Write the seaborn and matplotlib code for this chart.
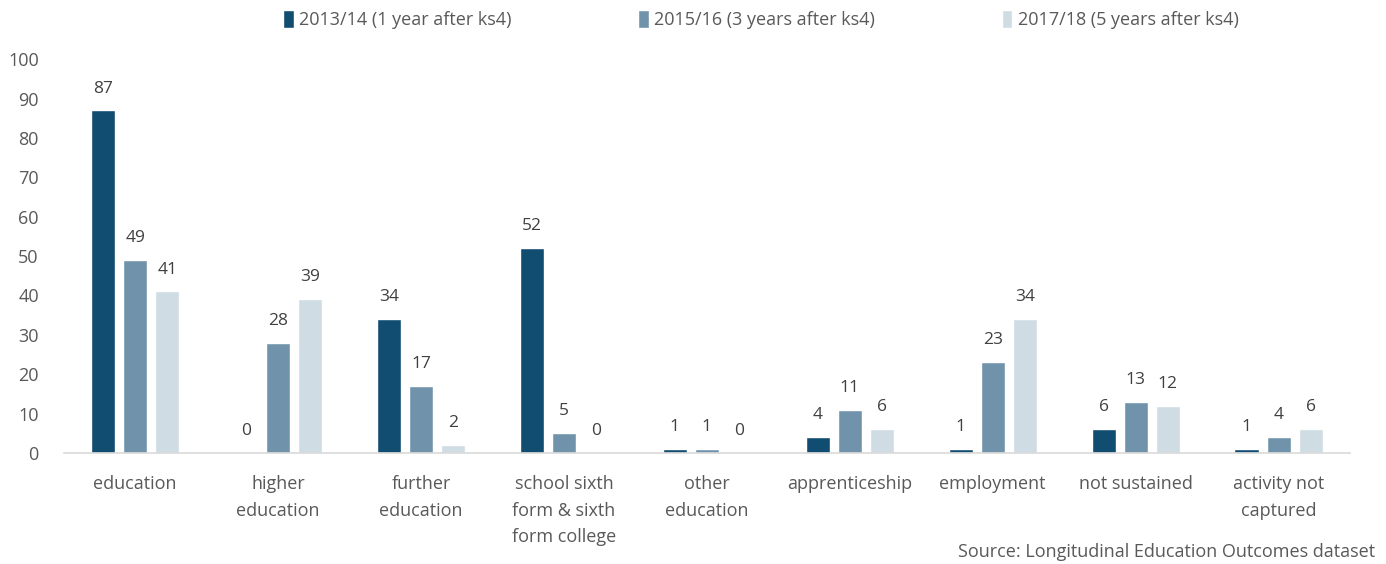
"""
Destinations after key stage 4 - grouped bar chart
"""

import matplotlib
matplotlib.use("Agg")
import matplotlib.pyplot as plt
import pandas as pd
import seaborn as sns

categories = ["education", "higher\neducation", "further\neducation",
              "school sixth\nform & sixth\nform college", "other\neducation",
              "apprenticeship", "employment", "not sustained",
              "activity not\ncaptured"]
series_names = ["2013/14 (1 year after ks4)", "2015/16 (3 years after ks4)",
                "2017/18 (5 years after ks4)"]
y_2013 = [87, 0, 34, 52, 1, 4, 1, 6, 1]
y_2015 = [49, 28, 17, 5, 1, 11, 23, 13, 4]
y_2017 = [41, 39, 2, 0, 0, 6, 34, 12, 6]
colors = ["#114d71", "#7093ab", "#cfdce4"]

df = pd.DataFrame({
    "category": categories * 3,
    "series": [s for s in series_names for _ in categories],
    "value": y_2013 + y_2015 + y_2017,
})

sns.set_style("white")
plt.rcParams["font.family"] = ["Open Sans", "DejaVu Sans"]

text_col = "#595959"

fig = plt.figure(figsize=(13.86, 5.64), dpi=100)
ax = fig.add_axes([0.046, 0.197, 0.928, 0.698])

sns.barplot(data=df, x="category", y="value", hue="series", palette=colors,
            width=0.672, gap=0.25, saturation=1, ax=ax)

for cont in ax.containers:
    ax.bar_label(cont, fmt="%d", padding=10, fontsize=12.5, color="#404040")

ax.set_xlim(-0.5, 8.5)
ax.set_ylim(0, 100)
ax.set_yticks(range(0, 101, 10))
ax.set_xlabel("")
ax.set_ylabel("")
ax.tick_params(axis="both", length=0, labelsize=13, colors=text_col)
ax.tick_params(axis="x", pad=16)
ax.tick_params(axis="y", pad=18)
for lab in ax.get_xticklabels():
    lab.set_linespacing(1.6)

sns.despine(ax=ax, left=True)
ax.spines["bottom"].set_color("#d9d9d9")
ax.spines["bottom"].set_linewidth(1.2)

leg = ax.legend(loc="center", bbox_to_anchor=(0.542, 1.1), ncol=3, frameon=False,
                fontsize=13, handlelength=0.6, handleheight=1.1, columnspacing=7.0,
                handletextpad=0.3)
for t in leg.get_texts():
    t.set_color(text_col)

fig.text(0.992, 0.005, "Source: Longitudinal Education Outcomes dataset",
         ha="right", va="bottom", fontsize=13, color=text_col)

fig.savefig("out.png", dpi=100)
